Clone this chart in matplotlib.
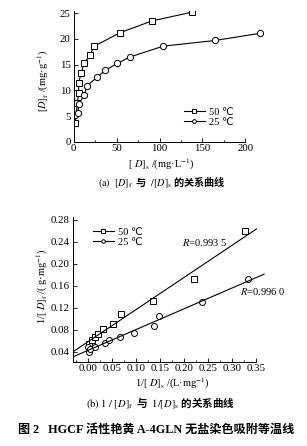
import numpy as np
import matplotlib
matplotlib.use("Agg")
import matplotlib.pyplot as plt
from matplotlib.ticker import MultipleLocator, FormatStrFormatter

plt.rcParams['font.family'] = ['Liberation Serif', 'DejaVu Sans', 'Noto Sans CJK SC']
plt.rcParams['mathtext.fontset'] = 'stix'
plt.rcParams['axes.linewidth'] = 0.7

### data

# (a) isotherms: [D]s (mg/L) vs [D]f (mg/g)
ds_50 = [2.1, 4.4, 6.0, 6.0, 8.7, 12.6, 19.2, 24.2, 54, 91, 137.4]
df_50 = [3.6, 7.5, 9.5, 11.4, 13.3, 15.25, 16.9, 18.6, 21.2, 23.5, 25.2]
ds_25 = [2.1, 4.9, 6.4, 12.2, 16, 27, 37, 51, 65.7, 104.4, 164.5, 216.9]
df_25 = [5.2, 5.5, 7.3, 9.1, 10.9, 12.5, 13.9, 15.25, 16.5, 18.6, 19.7, 21.1]

# (b) reciprocal plot
inv_s_50 = [0.002, 0.008, 0.014, 0.020, 0.031, 0.052, 0.069, 0.135, 0.220, 0.327]
inv_f_50 = [0.055, 0.061, 0.067, 0.072, 0.081, 0.090, 0.108, 0.132, 0.173, 0.259]
inv_s_25 = [0.000, 0.002, 0.004, 0.014, 0.035, 0.044, 0.067, 0.096, 0.137, 0.148, 0.237, 0.333]
inv_f_25 = [0.049, 0.040, 0.045, 0.049, 0.056, 0.061, 0.066, 0.075, 0.087, 0.105, 0.130, 0.172]

r_50 = "0.993 5"
r_25 = "0.996 0"

W, H = 307, 446
fig = plt.figure(figsize=(W / 100, H / 100), dpi=100)

def px(x, y):
  return x / W, 1 - y / H

def style_axes(ax):
  ax.spines['top'].set_visible(False)
  ax.spines['right'].set_visible(False)
  ax.tick_params(which='both', direction='in', width=0.6, labelsize=7.8, pad=2)
  ax.tick_params(which='major', length=3)
  ax.tick_params(which='minor', length=1.6)

### (a)
ax1 = fig.add_axes([73.5 / W, 1 - 141.7 / H, 189.2 / W, 131 / H])
ax1.plot(ds_50, df_50, '-s', color='k', lw=0.8, ms=4.5, mfc='white', mew=0.7, label='50 ℃')
ax1.plot(ds_25, df_25, '-o', color='k', lw=0.8, ms=4.5, mfc='white', mew=0.7, label='25 ℃')
ax1.set_xlim(0, 220)
ax1.set_ylim(0, 25.5)
style_axes(ax1)
ax1.spines['bottom'].set_bounds(0, 200)
ax1.xaxis.set_minor_locator(MultipleLocator(25))
ax1.yaxis.set_major_locator(MultipleLocator(5))
ax1.set_xticks(np.arange(0, 201, 50))
ax1.legend(loc='center left', bbox_to_anchor=px(184, 117), bbox_transform=fig.transFigure,
           frameon=False, fontsize=7.5, handlelength=2.0, handletextpad=0.4,
           labelspacing=0.05, borderpad=0, borderaxespad=0, markerscale=0.6)

fig.text(*px(43, 81), r"[$D$]$_\mathrm{f}$ /(mg·g$^{-1}$)", rotation=90,
         ha='center', va='center', fontsize=7.5)
fig.text(*px(161, 164), r"[ $D$]$_\mathrm{s}$ /(mg·L$^{-1}$)",
         ha='center', va='center', fontsize=7.5)
fig.text(*px(162, 183), r"$\mathrm{(a)\ \ [}\mathit{D}\mathrm{]_f}$  与  $\mathrm{/[}\mathit{D}\mathrm{]_s}$ 的关系曲线",
         ha='center', va='center', fontsize=7.3, family='Noto Sans CJK SC', weight='bold')

### (b)
ax2 = fig.add_axes([72.7 / W, 1 - 361.7 / H, 193.4 / W, 144.7 / H])
ax2.plot(inv_s_50, inv_f_50, 's', color='k', ms=4.3, mfc='white', mew=0.7)
ax2.plot(inv_s_25, inv_f_25, 'o', color='k', ms=4.3, mfc='white', mew=0.7)
k50, b50 = np.polyfit(inv_s_50, inv_f_50, 1)
k25, b25 = np.polyfit(inv_s_25, inv_f_25, 1)
xl50 = np.array([-0.032, 0.35])
xl25 = np.array([-0.032, 0.366])
ax2.plot(xl50, k50 * xl50 + b50, color='k', lw=0.8)
ax2.plot(xl25, k25 * xl25 + b25, color='k', lw=0.8)
# legend proxies
ax2.plot([], [], '-s', color='k', lw=0.8, ms=4.3, mfc='white', mew=0.7, label='50 ℃')
ax2.plot([], [], '-o', color='k', lw=0.8, ms=4.3, mfc='white', mew=0.7, label='25 ℃')
ax2.set_xlim(-0.032, 0.37)
ax2.set_ylim(0.022, 0.285)
style_axes(ax2)
ax2.spines['bottom'].set_bounds(-0.032, 0.35)
ax2.set_xticks(np.arange(0, 0.351, 0.05))
ax2.set_yticks(np.arange(0.04, 0.281, 0.04))
ax2.xaxis.set_minor_locator(MultipleLocator(0.025))
ax2.xaxis.set_major_formatter(FormatStrFormatter('%.2f'))
ax2.yaxis.set_major_formatter(FormatStrFormatter('%.2f'))
ax2.legend(loc='center left', bbox_to_anchor=px(93, 237), bbox_transform=fig.transFigure,
           frameon=False, fontsize=7.5, handlelength=2.0, handletextpad=0.4,
           labelspacing=0.05, borderpad=0, borderaxespad=0, markerscale=0.6)
ax2.text(0.195, 0.239, r"$R$=" + r_50, fontsize=7.5, ha='left', va='center')
ax2.text(0.315, 0.149, r"$R$=" + r_25, fontsize=7.5, ha='left', va='center')

fig.text(*px(42, 286), r"1/[ $D$]$_\mathrm{f}$ /( g·mg$^{-1}$)", rotation=90,
         ha='center', va='center', fontsize=7.5)
fig.text(*px(172, 383), r"1/[ $D$]$_\mathrm{s}$ /(L·mg$^{-1}$)",
         ha='center', va='center', fontsize=7.5)
fig.text(*px(160, 403), r"$\mathrm{(b)\ 1\ /\ [}\mathit{D}\mathrm{]_f}$  与  $\mathrm{1/[}\mathit{D}\mathrm{]_s}$ 的关系曲线",
         ha='center', va='center', fontsize=7.6, family='Noto Sans CJK SC', weight='bold')

fig.text(*px(156, 430), "图 2   HGCF 活性艳黄 A-4GLN 无盐染色吸附等温线",
         ha='center', va='center', fontsize=8.7, weight='bold',
         family=['Liberation Serif', 'Noto Sans CJK SC'])

fig.savefig('out.png', dpi=100)
